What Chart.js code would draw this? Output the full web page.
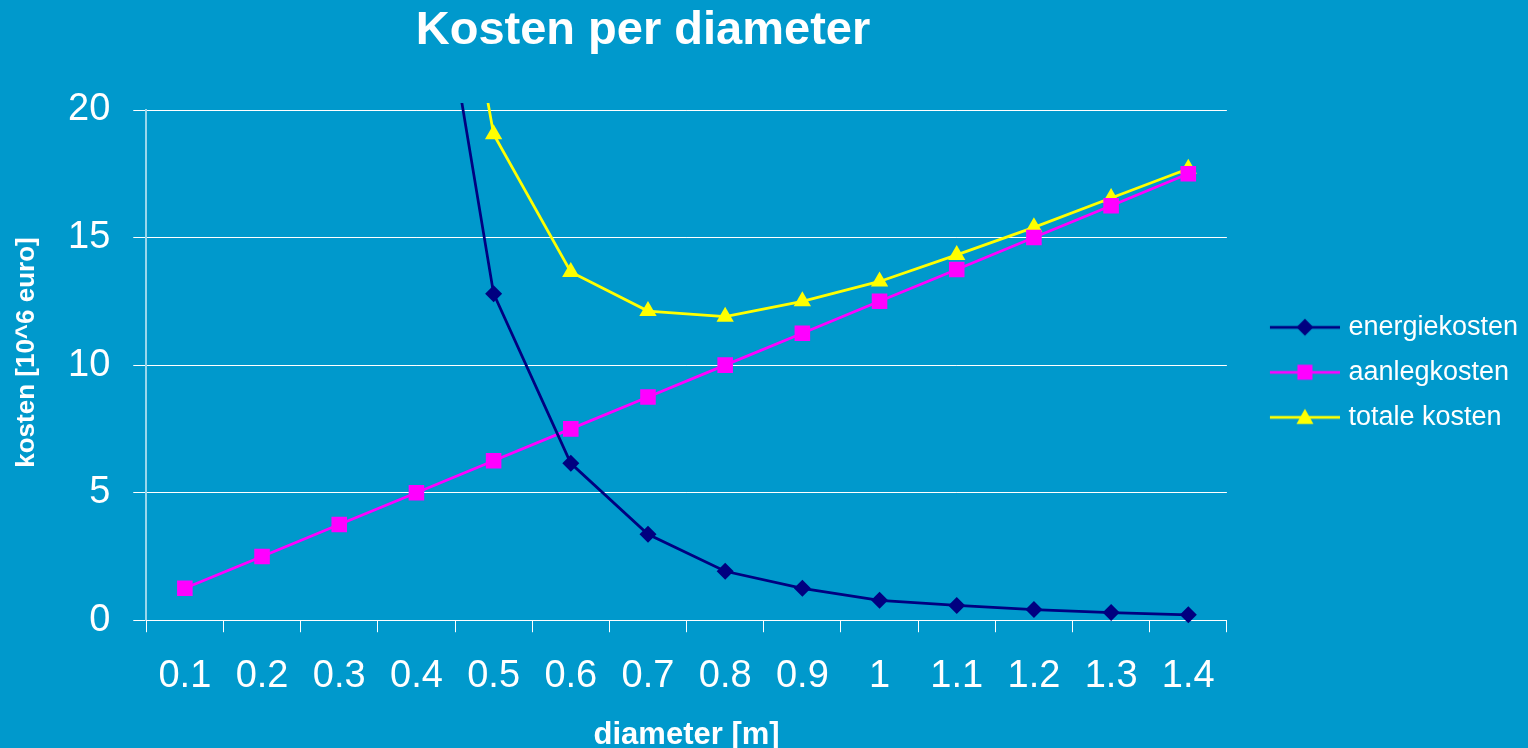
<!DOCTYPE html>
<html lang="nl">
  <head>
    <meta charset="UTF-8" />
    <title>Kosten per diameter</title>
    <script src="https://cdn.jsdelivr.net/npm/chart.js"></script>
    <style>
      html, body { margin: 0; padding: 0; background: #0099cc; }
      .wrap { width: 1528px; height: 748px; position: relative; }
    </style>
  </head>
  <body>
    <div class="wrap">
      <canvas id="chart_kosten"></canvas>
    </div>

    <script>
      const chartTitle = 'Kosten per diameter';
      const yTitle = 'kosten [10^6 euro]';
      const xTitle = 'diameter [m]';
      const diameters = ['0.1', '0.2', '0.3', '0.4', '0.5', '0.6', '0.7', '0.8', '0.9', '1', '1.1', '1.2', '1.3', '1.4'];
      // first values are far above the axis, only the slope into 0.5 is visible
      const energiekosten = [8000, 500, 98, 31, 12.8, 6.15, 3.37, 1.92, 1.25, 0.78, 0.58, 0.42, 0.3, 0.21];
      const aanlegkosten = [1.25, 2.5, 3.75, 5, 6.25, 7.5, 8.75, 10, 11.25, 12.5, 13.75, 15, 16.25, 17.5];
      const totaleKosten = [8001, 502.5, 101.8, 36, 19.05, 13.65, 12.12, 11.9, 12.5, 13.28, 14.32, 15.4, 16.55, 17.7];
      const yTicks = [0, 5, 10, 15, 20];

      const font = '"Liberation Sans", Arial, sans-serif';
      Chart.defaults.font.family = font;
      Chart.defaults.color = '#fff';

      // legend sample: empty gap, then a line with the marker in the middle
      const sampleBox = 90; // legend box width
      const sampleGap = 25;
      const sampleLen = 70;
      function makeSample(color, style, r) {
        const w = 2 * sampleGap + 2 * sampleLen - sampleBox;
        const left = w - sampleLen;
        const mid = left + sampleLen / 2;
        const c = document.createElement('canvas');
        c.width = w;
        c.height = 22;
        const g = c.getContext('2d');
        g.strokeStyle = color;
        g.fillStyle = color;
        g.lineWidth = 2.75;
        g.beginPath();
        g.moveTo(left, 11);
        g.lineTo(w, 11);
        g.stroke();
        g.beginPath();
        if (style === 'diamond') {
          g.moveTo(mid, 11 - r);
          g.lineTo(mid + r, 11);
          g.lineTo(mid, 11 + r);
          g.lineTo(mid - r, 11);
        } else if (style === 'square') {
          g.rect(mid - r, 11 - r, 2 * r, 2 * r);
        } else {
          g.moveTo(mid, 11 - r);
          g.lineTo(mid + r, 11 + r * 0.8);
          g.lineTo(mid - r, 11 + r * 0.8);
        }
        g.closePath();
        g.fill();
        return c;
      }

      const samples = [
        makeSample('#000080', 'diamond', 8.5),
        makeSample('#ff00ff', 'square', 7.5),
        makeSample('#ffff00', 'triangle', 8.5),
      ];

      // chart title and y-axis title sit a bit off-centre in the original
      const titlePlugin = {
        id: 'kop',
        afterDraw(chart) {
          const ctx = chart.ctx;
          ctx.save();
          ctx.fillStyle = '#fff';
          ctx.textAlign = 'center';
          ctx.font = 'bold 47px ' + font;
          ctx.textBaseline = 'alphabetic';
          ctx.fillText(chartTitle, 643, 44);

          ctx.font = 'bold 26px ' + font;
          ctx.textBaseline = 'middle';
          ctx.translate(27, 352.5);
          ctx.rotate(-Math.PI / 2);
          ctx.fillText(yTitle, 0, 0);
          ctx.restore();
        },
      };

      const clipArea = { left: 10, top: 7, right: 10, bottom: 10 };

      new Chart(document.getElementById('chart_kosten'), {
        type: 'line',
        data: {
          labels: diameters,
          datasets: [
            {
              label: 'energiekosten',
              data: energiekosten,
              borderColor: '#000080',
              backgroundColor: '#000080',
              borderWidth: 2.75,
              pointStyle: 'rectRot',
              pointRadius: 8.5,
              pointBorderWidth: 0,
              clip: clipArea,
            },
            {
              label: 'aanlegkosten',
              data: aanlegkosten,
              borderColor: '#ff00ff',
              backgroundColor: '#ff00ff',
              borderWidth: 2.75,
              pointStyle: 'rect',
              pointRadius: 11,
              pointBorderWidth: 0,
              clip: clipArea,
            },
            {
              label: 'totale kosten',
              data: totaleKosten,
              borderColor: '#ffff00',
              backgroundColor: '#ffff00',
              borderWidth: 2.75,
              pointStyle: 'triangle',
              pointRadius: 10,
              pointBorderWidth: 0,
              clip: clipArea,
            },
          ],
        },
        options: {
          responsive: true,
          maintainAspectRatio: false,
          animation: false,
          events: [],
          layout: {
            padding: { top: 110, left: 45, right: 0, bottom: 0 },
          },
          scales: {
            x: {
              type: 'category',
              offset: true,
              grid: {
                offset: true,
                drawOnChartArea: false,
                drawTicks: true,
                tickLength: 12,
                color: '#fff',
              },
              border: { color: '#fff', width: 1 },
              ticks: {
                color: '#fff',
                font: { size: 38 },
                padding: 21,
                maxRotation: 0,
                autoSkip: false,
              },
              title: {
                display: true,
                text: xTitle,
                color: '#fff',
                font: { size: 31, weight: 'bold', lineHeight: 0.78 },
                padding: { top: 4, bottom: 0 },
              },
            },
            y: {
              min: 0,
              max: 20,
              afterBuildTicks(scale) {
                scale.ticks = yTicks.map((v) => ({ value: v }));
              },
              grid: { color: '#fff', lineWidth: 1, tickLength: 13 },
              border: { color: 'rgba(255,255,255,0.6)', width: 2 },
              ticks: {
                color: '#fff',
                font: { size: 38 },
                padding: 23,
              },
              title: { display: false },
            },
          },
          plugins: {
            title: { display: false },
            tooltip: { enabled: false },
            legend: {
              display: true,
              position: 'right',
              fullSize: false,
              align: 'center',
              title: {
                display: true,
                text: '',
                font: { size: 1 },
                padding: { top: 0, bottom: 13 },
              },
              labels: {
                color: '#fff',
                font: { size: 27 },
                usePointStyle: true,
                pointStyleWidth: sampleBox,
                padding: 18,
                generateLabels(chart) {
                  const items = Chart.defaults.plugins.legend.labels.generateLabels(chart);
                  items.forEach((item, i) => {
                    item.pointStyle = samples[i];
                  });
                  return items;
                },
              },
            },
          },
        },
        plugins: [titlePlugin],
      });
    </script>
  </body>
</html>
